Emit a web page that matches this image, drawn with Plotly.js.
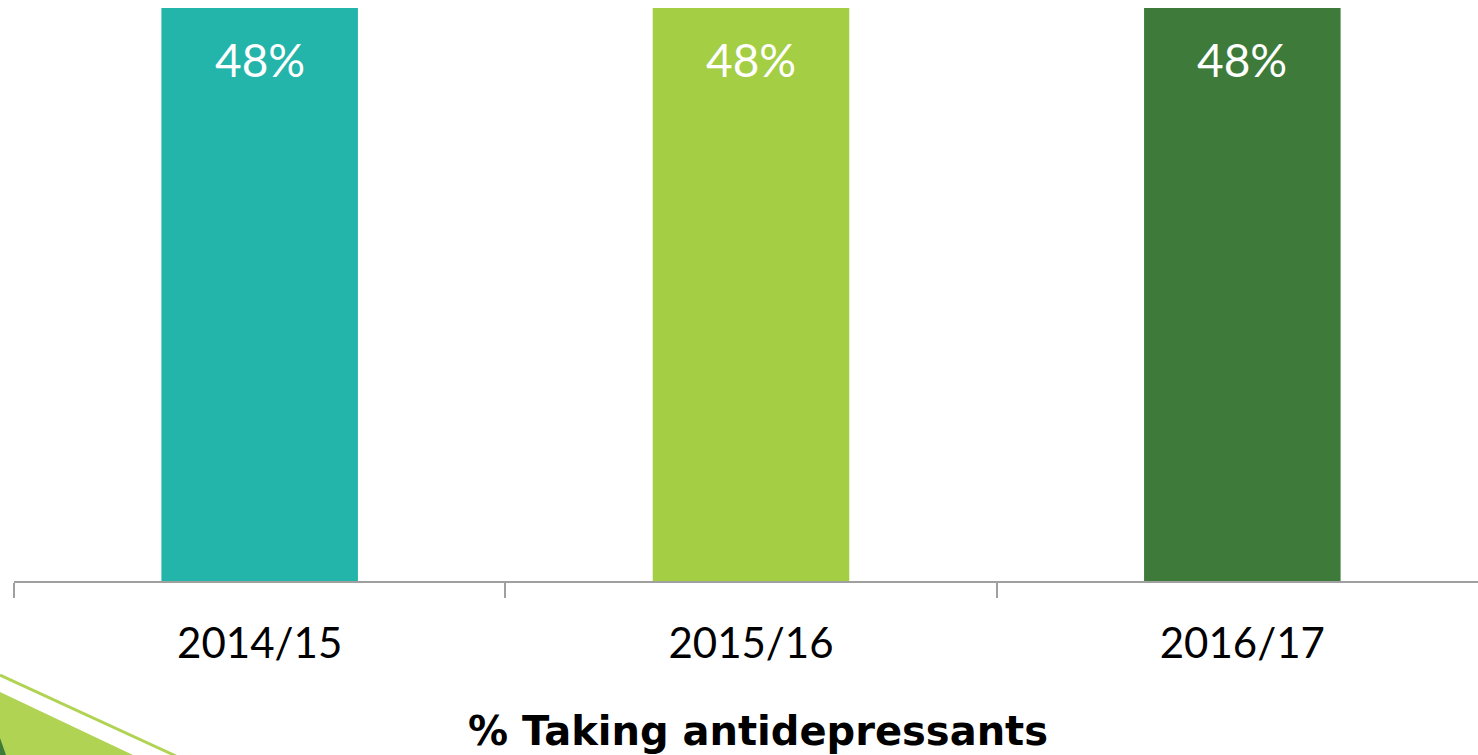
<!DOCTYPE html>
<html>
<head>
<meta charset="utf-8">
<script src="https://cdn.plot.ly/plotly-3.0.1.min.js"></script>
<style>
html,body{margin:0;padding:0;overflow:hidden;background:#fff;}
#chart{width:1489px;height:755px;}
</style>
</head>
<body>
<div id="chart"></div>
<script>
const categories = ["2014/15", "2015/16", "2016/17"];
const values = [48, 48, 48];
const labels = ["48%", "48%", "48%"];
const barColors = ["#23B4AA", "#A4CE44", "#3E7B3A"];
const chartTitle = "% Taking antidepressants";

const trace = {
  type: "bar",
  x: categories,
  y: values,
  marker: {color: barColors},
  hoverinfo: "none"
};

const annotations = categories.map((c, i) => ({
  x: c, y: values[i], xref: "x", yref: "y",
  text: labels[i], showarrow: false,
  yanchor: "middle", yshift: -51,
  font: {family: "Lato, 'Open Sans', sans-serif", size: 46, color: "#ffffff"}
}));
annotations.push({
  xref: "paper", yref: "paper", x: 0.5045, y: -0.262,
  text: "<b>" + chartTitle + "</b>", showarrow: false,
  xanchor: "center", yanchor: "middle",
  font: {family: "'DejaVu Sans', sans-serif", size: 40, color: "#000000"}
});

const layout = {
  width: 1489, height: 755,
  margin: {l: 14, r: 1, t: 8, b: 174},
  paper_bgcolor: "#ffffff", plot_bgcolor: "#ffffff",
  bargap: 0.6,
  showlegend: false,
  xaxis: {
    type: "category",
    showline: true, linecolor: "#A0A0A0", linewidth: 2,
    ticks: "outside", tickson: "boundaries", ticklen: 15, tickwidth: 2, tickcolor: "#A0A0A0",
    tickfont: {family: "Lato, 'Open Sans', sans-serif", size: 42, color: "#000000"},
    ticklabelstandoff: 25,
    showgrid: false, zeroline: false, fixedrange: true
  },
  yaxis: {
    range: [0, 48], visible: false, showgrid: false, zeroline: false, fixedrange: true
  },
  annotations: annotations
};

// decorative shapes in pixel-converted paper coords
function px(xp){ return (xp - 14) / 1474; }
function py(yp){ return (581 - yp) / 573; }
layout.shapes = [
  {type: "path", xref: "paper", yref: "paper",
   path: `M ${px(0)} ${py(692)} L ${px(133)} ${py(755)} L ${px(0)} ${py(755)} Z`,
   fillcolor: "#B1D354", line: {width: 0}, layer: "below"},
  {type: "line", xref: "paper", yref: "paper",
   x0: px(0), y0: py(675), x1: px(176), y1: py(756),
   line: {color: "#B1D354", width: 3}, layer: "below"},
  {type: "path", xref: "paper", yref: "paper",
   path: `M ${px(0)} ${py(738)} L ${px(6)} ${py(755)} L ${px(0)} ${py(755)} Z`,
   fillcolor: "#3E7B3A", line: {width: 0}, layer: "below"}
];

Plotly.newPlot("chart", [trace], layout, {displayModeBar: false, staticPlot: true});
</script>
</body>
</html>
